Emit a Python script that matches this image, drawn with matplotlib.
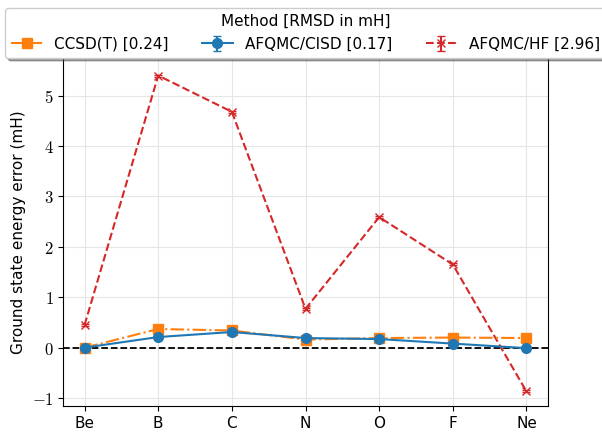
import numpy as np
import matplotlib
matplotlib.use("Agg")
import matplotlib.pyplot as plt
from matplotlib.ticker import FuncFormatter

plt.rcParams['mathtext.fontset'] = 'cm'
plt.rcParams['font.family'] = ['DejaVu Sans']

atoms = ["Be", "B", "C", "N", "O", "F", "Ne"]
ccsdt = [0.0, 0.37, 0.34, 0.16, 0.19, 0.20, 0.19]
cisd = [0.0, 0.21, 0.31, 0.19, 0.17, 0.08, -0.01]
cisd_err = [0.02, 0.02, 0.02, 0.02, 0.02, 0.02, 0.02]
hf = [0.45, 5.40, 4.68, 0.77, 2.59, 1.65, -0.87]
hf_err = [0.02, 0.02, 0.02, 0.02, 0.02, 0.02, 0.02]

labels = ["CCSD(T) [0.24]", "AFQMC/CISD [0.17]", "AFQMC/HF [2.96]"]

x = np.arange(len(atoms))

fig = plt.figure(figsize=(6.02, 4.32), dpi=100)
ax = fig.add_axes([0.105, 0.06, 0.805, 0.806])

ax.plot(x, ccsdt, color="tab:orange", ls="-.", marker="s", ms=7, label=labels[0], zorder=3)
ax.errorbar(x, cisd, yerr=cisd_err, color="tab:blue", ls="-", marker="o", ms=7,
            capsize=3, label=labels[1], zorder=4)
ax.errorbar(x, hf, yerr=hf_err, color="tab:red", ls="--", marker="x", ms=6,
            capsize=3, label=labels[2], zorder=2)
ax.axhline(0, color="black", ls="--", lw=1.3, zorder=1)

ax.set_xticks(x)
ax.set_xticklabels(atoms, fontsize=11)
ax.set_yticks([-1, 0, 1, 2, 3, 4, 5])
ax.yaxis.set_major_formatter(FuncFormatter(lambda v, p: r"$%d$" % v))
ax.tick_params(axis="y", labelsize=12)
ax.set_xlim(-0.29, 6.29)
ax.set_ylim(-1.16, 5.75)
ax.grid(True, color="#e6e6e6", lw=0.8)
ax.set_axisbelow(True)
ax.set_ylabel("Ground state energy error (mH)", fontsize=11)

leg = ax.legend(loc="upper center", bbox_to_anchor=(0.5, 1.165), ncol=3,
                title="Method [RMSD in mH]", fontsize=11, title_fontsize=11,
                shadow=True, fancybox=True, columnspacing=2.2)

fig.savefig("out.png", dpi=100)
